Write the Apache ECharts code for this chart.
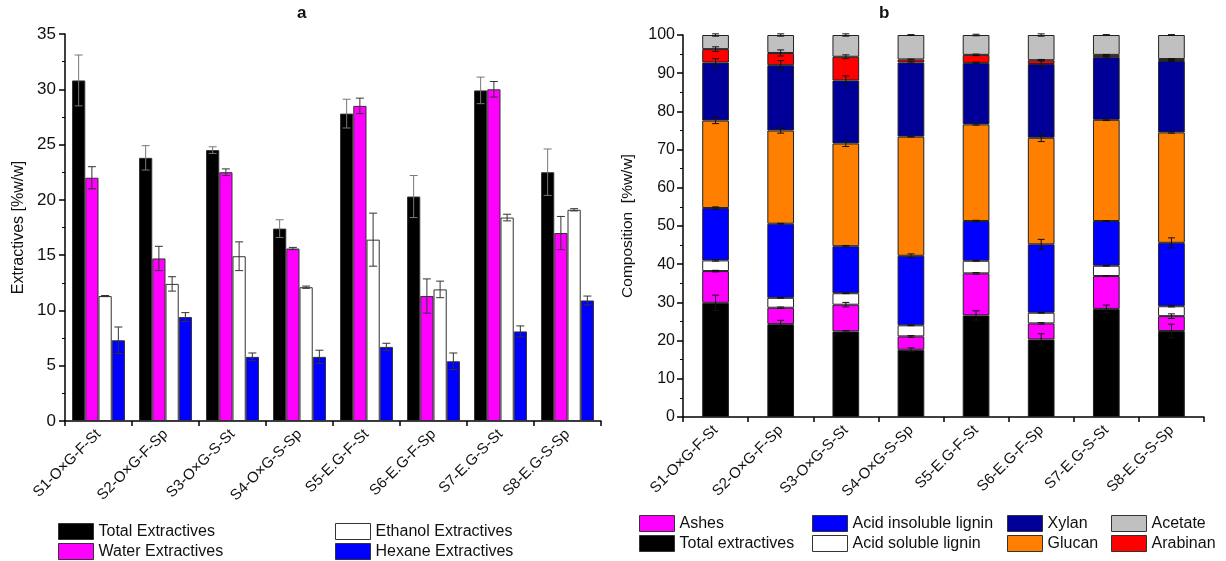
<!DOCTYPE html>
<html>
<head>
<meta charset="utf-8">
<script src="https://cdn.jsdelivr.net/npm/echarts@6/dist/echarts.min.js"></script>
<style>
  html, body { margin: 0; padding: 0; background: #fff; }
  #chart { width: 1226px; height: 561px; }
</style>
</head>
<body>
<div id="chart"></div>
<script>
// Sample labels shared by both panels
const categories = ['S1-O×G-F-St', 'S2-O×G-F-Sp', 'S3-O×G-S-St', 'S4-O×G-S-Sp',
                    'S5-E.G-F-St', 'S6-E.G-F-Sp', 'S7-E.G-S-St', 'S8-E.G-S-Sp'];

// Panel a: extractives [%w/w] with standard deviations
const totalExtractives    = [30.8, 23.8, 24.5, 17.4, 27.8, 20.3, 29.9, 22.5];
const totalExtractivesErr = [2.3, 1.1, 0.3, 0.8, 1.3, 1.9, 1.2, 2.1];
const waterExtractives    = [22.0, 14.7, 22.5, 15.6, 28.5, 11.3, 30.0, 17.0];
const waterExtractivesErr = [1.0, 1.1, 0.3, 0.1, 0.7, 1.55, 0.7, 1.5];
const ethanolExtractives  = [11.3, 12.4, 14.9, 12.1, 16.4, 11.9, 18.4, 19.1];
const ethanolExtractivesErr = [0.05, 0.65, 1.3, 0.1, 2.4, 0.75, 0.3, 0.1];
const hexaneExtractives   = [7.3, 9.4, 5.8, 5.8, 6.7, 5.4, 8.1, 10.9];
const hexaneExtractivesErr = [1.2, 0.4, 0.35, 0.6, 0.33, 0.75, 0.5, 0.4];

// Panel b: composition [%w/w], stacked bottom to top
const compTotalExtractives = [29.9, 24.3, 22.4, 17.6, 26.6, 20.3, 28.3, 22.5];
const compAshes            = [8.3, 4.3, 7.0, 3.5, 11.0, 4.2, 8.6, 3.9];
const compAcidSoluble      = [2.8, 2.6, 3.0, 2.9, 3.3, 2.8, 2.7, 2.6];
const compAcidInsoluble    = [13.7, 19.4, 12.3, 18.2, 10.4, 17.9, 11.7, 16.6];
const compGlucan           = [22.9, 24.4, 26.9, 31.2, 25.3, 27.9, 26.5, 28.9];
const compXylan            = [15.2, 17.1, 16.5, 19.4, 16.1, 19.3, 16.4, 18.7];
const compArabinan         = [3.5, 3.2, 6.2, 0.8, 2.1, 1.0, 0.6, 0.5];
const compAcetate          = [3.7, 4.7, 5.7, 6.4, 5.2, 6.6, 5.2, 6.3];

const compTotalExtractivesErr = [2.0, 1.0, 0.2, 0.5, 1.2, 1.5, 1.0, 1.8];
const compAshesErr            = [0.2, 0.2, 0.6, 0.2, 0.2, 0.2, 0.1, 0.6];
const compAcidSolubleErr      = [0.2, 0.1, 0.1, 0.1, 0.1, 0.1, 0.1, 0.2];
const compAcidInsolubleErr    = [0.3, 0.1, 0.2, 0.5, 0.2, 1.3, 0.1, 1.3];
const compGlucanErr           = [0.8, 0.7, 0.8, 0.1, 0.2, 1.0, 0.2, 0.2];
const compXylanErr            = [1.0, 1.2, 1.2, 0.2, 0.2, 1.0, 0.2, 0.1];
const compArabinanErr         = [0.6, 0.8, 0.5, 0.1, 0.2, 0.2, 0.1, 0.1];
const compAcetateErr          = [0.3, 0.3, 0.3, 0.1, 0.2, 0.3, 0.1, 0.1];

const FONT = '"Liberation Sans", Arial, sans-serif';
const TEXT = '#111';
const GAP_A = 0.21;   // category gap, panel a
const GAP_B = 0.59;   // category gap, panel b

// Error bar drawn at the top of a bar; slot picks the bar inside a grouped category
function errorBar(slot, nSlots, gap, capHalf, color) {
  return function (params, api) {
    const xi = api.value(0), y = api.value(1), e = api.value(2);
    const base = api.coord([xi, y]);
    const band = api.size([1, 0])[0];
    const bw = band * (1 - gap) / nSlots;
    const cx = base[0] + (slot - (nSlots - 1) / 2) * bw;
    const hi = api.coord([xi, y + e])[1];
    const lo = api.coord([xi, y - e])[1];
    const st = { stroke: color, lineWidth: 1 };
    return {
      type: 'group',
      children: [
        { type: 'line', shape: { x1: cx, y1: hi, x2: cx, y2: lo }, style: st },
        { type: 'line', shape: { x1: cx - capHalf, y1: hi, x2: cx + capHalf, y2: hi }, style: st },
        { type: 'line', shape: { x1: cx - capHalf, y1: lo, x2: cx + capHalf, y2: lo }, style: st }
      ]
    };
  };
}

function errData(vals, errs) {
  return vals.map((v, i) => [i, v, errs[i]]);
}

const series = [];

// Panel a bars
const panelA = [
  { name: 'Total Extractives',   data: totalExtractives,   err: totalExtractivesErr,   color: '#000000', errColor: '#777' },
  { name: 'Water Extractives',   data: waterExtractives,   err: waterExtractivesErr,   color: '#ff00ff', errColor: '#333' },
  { name: 'Ethanol Extractives', data: ethanolExtractives, err: ethanolExtractivesErr, color: '#ffffff', errColor: '#333' },
  { name: 'Hexane Extractives',  data: hexaneExtractives,  err: hexaneExtractivesErr,  color: '#0000ff', errColor: '#333' }
];
panelA.forEach(s => {
  series.push({
    name: s.name, type: 'bar', xAxisIndex: 0, yAxisIndex: 0,
    data: s.data, barGap: '0%', barCategoryGap: (GAP_A * 100) + '%',
    itemStyle: { color: s.color, borderColor: '#333', borderWidth: 1 },
    emphasis: { disabled: true }
  });
});
panelA.forEach((s, k) => {
  series.push({
    type: 'custom', xAxisIndex: 0, yAxisIndex: 0, z: 5, silent: true,
    renderItem: errorBar(k, 4, GAP_A, 4, s.errColor),
    data: errData(s.data, s.err)
  });
});

// Panel b stacked bars
const panelB = [
  { name: 'Total extractives',      data: compTotalExtractives, err: compTotalExtractivesErr, color: '#000000' },
  { name: 'Ashes',                  data: compAshes,            err: compAshesErr,            color: '#ff00ff' },
  { name: 'Acid soluble lignin',    data: compAcidSoluble,      err: compAcidSolubleErr,      color: '#ffffff' },
  { name: 'Acid insoluble lignin',  data: compAcidInsoluble,    err: compAcidInsolubleErr,    color: '#0000ff' },
  { name: 'Glucan',                 data: compGlucan,           err: compGlucanErr,           color: '#ff8000' },
  { name: 'Xylan',                  data: compXylan,            err: compXylanErr,            color: '#000099' },
  { name: 'Arabinan',               data: compArabinan,         err: compArabinanErr,         color: '#ff0000' },
  { name: 'Acetate',                data: compAcetate,          err: compAcetateErr,          color: '#c0c0c0' }
];
const running = categories.map(() => 0);
panelB.forEach(s => {
  series.push({
    name: s.name, type: 'bar', xAxisIndex: 1, yAxisIndex: 1, stack: 'comp',
    data: s.data, barCategoryGap: (GAP_B * 100) + '%',
    itemStyle: { color: s.color, borderColor: '#222', borderWidth: 1 },
    emphasis: { disabled: true }
  });
});
panelB.forEach(s => {
  const tops = s.data.map((v, i) => { running[i] += v; return running[i]; });
  series.push({
    type: 'custom', xAxisIndex: 1, yAxisIndex: 1, z: 5, silent: true,
    renderItem: errorBar(0, 1, GAP_B, 3.5, '#111'),
    data: errData(tops, s.err)
  });
});

const axisLine = { show: true, lineStyle: { color: '#000', width: 1.5 } };
const legendText = { fontFamily: FONT, fontSize: 16, color: TEXT };
function legendCol(left, top, names) {
  return {
    orient: 'vertical', left: left, top: top, itemWidth: 35, itemHeight: 16, itemGap: 3,
    padding: 0, selectedMode: false, icon: 'rect', data: names, textStyle: legendText,
    itemStyle: { borderColor: '#333', borderWidth: 1 }
  };
}

const option = {
  animation: false,
  backgroundColor: '#fff',
  title: [
    { text: 'a', left: 292, top: 0, textStyle: { fontFamily: FONT, fontSize: 17, fontWeight: 'bold', color: TEXT } },
    { text: 'b', left: 874, top: 0, textStyle: { fontFamily: FONT, fontSize: 17, fontWeight: 'bold', color: TEXT } }
  ],
  grid: [
    { left: 65, top: 34, width: 536, height: 387 },
    { left: 683, top: 35, width: 521, height: 382 }
  ],
  xAxis: [0, 1].map(g => ({
    type: 'category', gridIndex: g, data: categories,
    axisLine: axisLine,
    axisTick: { show: true, length: 5, interval: 0, lineStyle: { color: '#000', width: 1.5 } },
    axisLabel: { interval: 0, rotate: 45, fontFamily: FONT, fontSize: 15, color: TEXT, margin: 11 },
    splitLine: { show: false }
  })),
  yAxis: [
    {
      type: 'value', gridIndex: 0, min: 0, max: 35, interval: 5,
      name: 'Extractives [%w/w]', nameLocation: 'middle', nameGap: 38,
      nameTextStyle: { fontFamily: FONT, fontSize: 16, color: TEXT },
      axisLine: axisLine,
      axisTick: { show: true, length: 6, lineStyle: { color: '#000', width: 1.5 } },
      minorTick: { show: true, splitNumber: 2, length: 3, lineStyle: { color: '#000', width: 1 } },
      axisLabel: { fontFamily: FONT, fontSize: 17, color: TEXT, margin: 9 },
      splitLine: { show: false }
    },
    {
      type: 'value', gridIndex: 1, min: 0, max: 100, interval: 10,
      name: 'Composition  [%w/w]', nameLocation: 'middle', nameGap: 47,
      nameTextStyle: { fontFamily: FONT, fontSize: 15.5, color: TEXT },
      axisLine: axisLine,
      axisTick: { show: true, length: 6, lineStyle: { color: '#000', width: 1.5 } },
      minorTick: { show: true, splitNumber: 2, length: 3, lineStyle: { color: '#000', width: 1 } },
      axisLabel: { fontFamily: FONT, fontSize: 16, color: TEXT, margin: 8 },
      splitLine: { show: false }
    }
  ],
  legend: [
    legendCol(58, 523, ['Total Extractives', 'Water Extractives']),
    legendCol(335, 523, ['Ethanol Extractives', 'Hexane Extractives']),
    legendCol(639, 515, ['Ashes', 'Total extractives']),
    legendCol(812, 515, ['Acid insoluble lignin', 'Acid soluble lignin']),
    legendCol(1007, 515, ['Xylan', 'Glucan']),
    legendCol(1111, 515, ['Acetate', 'Arabinan'])
  ],
  series: series
};

const chart = echarts.init(document.getElementById('chart'), null, { renderer: 'canvas' });
chart.setOption(option);
</script>
</body>
</html>
